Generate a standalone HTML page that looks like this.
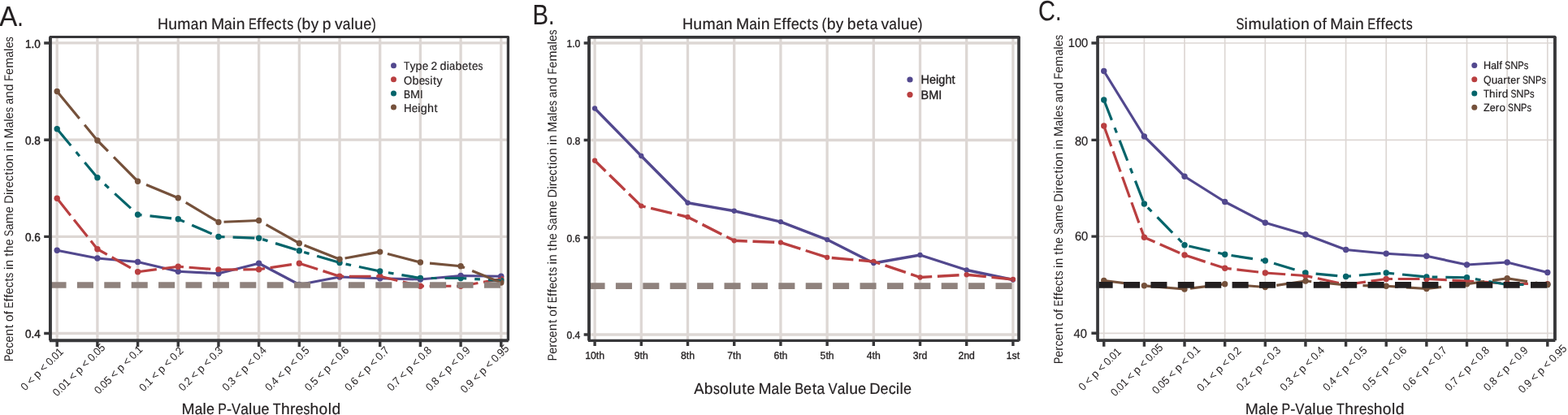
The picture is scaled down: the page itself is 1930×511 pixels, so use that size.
<!DOCTYPE html>
<html lang="en">
<head>
<meta charset="utf-8">
<title>Percent of Effects in the Same Direction in Males and Females</title>
<style>
html,body{margin:0;padding:0;background:#fff;}
body{width:1930px;height:511px;overflow:hidden;}
svg{display:block;}
</style>
</head>
<body>
<svg width="1930" height="511" viewBox="0 0 1930 511" text-rendering="geometricPrecision">
<rect width="1930" height="511" fill="#fff"/>
<g id="panel-a">
<path d="M70.20 45.43V419.25M119.89 45.43V419.25M169.58 45.43V419.25M219.27 45.43V419.25M268.96 45.43V419.25M318.65 45.43V419.25M368.34 45.43V419.25M418.03 45.43V419.25M467.72 45.43V419.25M517.41 45.43V419.25M567.10 45.43V419.25M616.79 45.43V419.25M61.94 52.97H625.42M61.94 172.20H625.42M61.94 291.40H625.42M61.94 410.50H625.42" stroke="#ddd7d4" stroke-width="3.3" fill="none"/>
<g fill="#52488e"><circle cx="70.20" cy="308.25" r="3.7"/><circle cx="119.89" cy="318.00" r="3.7"/><circle cx="169.58" cy="322.50" r="3.7"/><circle cx="219.27" cy="334.25" r="3.7"/><circle cx="268.96" cy="336.75" r="3.7"/><circle cx="318.65" cy="324.25" r="3.7"/><circle cx="368.34" cy="350.50" r="3.7"/><circle cx="418.03" cy="341.00" r="3.7"/><circle cx="467.72" cy="342.75" r="3.7"/><circle cx="517.41" cy="344.00" r="3.7"/><circle cx="567.10" cy="339.50" r="3.7"/><circle cx="616.79" cy="340.25" r="3.7"/></g>
<g fill="#b93f40"><circle cx="70.20" cy="244.25" r="3.7"/><circle cx="119.89" cy="306.75" r="3.7"/><circle cx="169.58" cy="334.75" r="3.7"/><circle cx="219.27" cy="328.25" r="3.7"/><circle cx="268.96" cy="332.00" r="3.7"/><circle cx="318.65" cy="331.75" r="3.7"/><circle cx="368.34" cy="324.25" r="3.7"/><circle cx="418.03" cy="340.25" r="3.7"/><circle cx="467.72" cy="340.25" r="3.7"/><circle cx="517.41" cy="352.25" r="3.7"/><circle cx="567.10" cy="352.25" r="3.7"/><circle cx="616.79" cy="343.50" r="3.7"/></g>
<g fill="#04646a"><circle cx="70.20" cy="158.75" r="3.7"/><circle cx="119.89" cy="218.75" r="3.7"/><circle cx="169.58" cy="264.25" r="3.7"/><circle cx="219.27" cy="269.75" r="3.7"/><circle cx="268.96" cy="291.50" r="3.7"/><circle cx="318.65" cy="293.25" r="3.7"/><circle cx="368.34" cy="308.75" r="3.7"/><circle cx="418.03" cy="323.50" r="3.7"/><circle cx="467.72" cy="334.00" r="3.7"/><circle cx="517.41" cy="342.50" r="3.7"/><circle cx="567.10" cy="342.50" r="3.7"/><circle cx="616.79" cy="345.50" r="3.7"/></g>
<g fill="#75513b"><circle cx="70.20" cy="112.50" r="3.7"/><circle cx="119.89" cy="173.00" r="3.7"/><circle cx="169.58" cy="223.25" r="3.7"/><circle cx="219.27" cy="243.75" r="3.7"/><circle cx="268.96" cy="273.50" r="3.7"/><circle cx="318.65" cy="271.50" r="3.7"/><circle cx="368.34" cy="299.50" r="3.7"/><circle cx="418.03" cy="319.25" r="3.7"/><circle cx="467.72" cy="310.10" r="3.7"/><circle cx="517.41" cy="323.00" r="3.7"/><circle cx="567.10" cy="327.75" r="3.7"/><circle cx="616.79" cy="348.00" r="3.7"/></g>
<polyline points="70.20,308.25 119.89,318.00 169.58,322.50 219.27,334.25 268.96,336.75 318.65,324.25 368.34,350.50 418.03,341.00 467.72,342.75 517.41,344.00 567.10,339.50 616.79,340.25" fill="none" stroke="#52488e" stroke-width="3.2" stroke-linejoin="round"/>
<polyline points="70.20,244.25 119.89,306.75 169.58,334.75 219.27,328.25 268.96,332.00 318.65,331.75 368.34,324.25 418.03,340.25 467.72,340.25 517.41,352.25 567.10,352.25 616.79,343.50" fill="none" stroke="#b93f40" stroke-width="3.2" stroke-linejoin="round" stroke-dasharray="26.72 6.68"/>
<polyline points="70.20,158.75 119.89,218.75 169.58,264.25 219.27,269.75 268.96,291.50 318.65,293.25 368.34,308.75 418.03,323.50 467.72,334.00 517.41,342.50 567.10,342.50 616.79,345.50" fill="none" stroke="#04646a" stroke-width="3.2" stroke-linejoin="round" stroke-dasharray="26.72 10.02 6.68 10.02"/>
<polyline points="70.20,112.50 119.89,173.00 169.58,223.25 219.27,243.75 268.96,273.50 318.65,271.50 368.34,299.50 418.03,319.25 467.72,310.10 517.41,323.00 567.10,327.75 616.79,348.00" fill="none" stroke="#75513b" stroke-width="3.2" stroke-linejoin="round" stroke-dasharray="43.42 10.02"/>
<path d="M61.5 351.0H625.42" stroke="#8f827d" stroke-width="7.7" stroke-dasharray="20.04 13.36" fill="none"/>
<path d="M54.19 52.97H61.94M54.19 172.20H61.94M54.19 291.40H61.94M54.19 410.50H61.94M70.20 419.25V427.03M119.89 419.25V427.03M169.58 419.25V427.03M219.27 419.25V427.03M268.96 419.25V427.03M318.65 419.25V427.03M368.34 419.25V427.03M418.03 419.25V427.03M467.72 419.25V427.03M517.41 419.25V427.03M567.10 419.25V427.03M616.79 419.25V427.03" stroke="#373739" stroke-width="3.4" fill="none"/>
<g fill="none" stroke="#373739"><path d="M61.94 45.43H625.42" stroke-width="2.95" stroke-linecap="round"/><path d="M625.42 45.43V419.45" stroke-width="3.3"/><path d="M61.94 45.43V419.35" stroke-width="3.9"/><path d="M60.89 419.25H625.82" stroke-width="3.95"/></g>
</g>
<g id="panel-b">
<path d="M732.10 45.9V419.45M789.30 45.9V419.45M846.50 45.9V419.45M903.70 45.9V419.45M960.90 45.9V419.45M1018.10 45.9V419.45M1075.30 45.9V419.45M1132.50 45.9V419.45M1189.70 45.9V419.45M1246.90 45.9V419.45M725.0 53.00H1254.05M725.0 172.50H1254.05M725.0 292.50H1254.05M725.0 412.00H1254.05" stroke="#ddd7d4" stroke-width="3.3" fill="none"/>
<g fill="#52488e"><circle cx="732.10" cy="133.50" r="3.15"/><circle cx="789.30" cy="192.00" r="3.15"/><circle cx="846.50" cy="249.75" r="3.15"/><circle cx="903.70" cy="259.75" r="3.15"/><circle cx="960.90" cy="273.10" r="3.15"/><circle cx="1018.10" cy="295.10" r="3.15"/><circle cx="1075.30" cy="324.00" r="3.15"/><circle cx="1132.50" cy="314.00" r="3.15"/><circle cx="1189.70" cy="332.50" r="3.15"/><circle cx="1246.90" cy="344.50" r="3.15"/></g>
<g fill="#b93f40"><circle cx="732.10" cy="197.75" r="3.15"/><circle cx="789.30" cy="253.60" r="3.15"/><circle cx="846.50" cy="267.25" r="3.15"/><circle cx="903.70" cy="296.30" r="3.15"/><circle cx="960.90" cy="298.60" r="3.15"/><circle cx="1018.10" cy="317.00" r="3.15"/><circle cx="1075.30" cy="322.00" r="3.15"/><circle cx="1132.50" cy="341.50" r="3.15"/><circle cx="1189.70" cy="338.25" r="3.15"/><circle cx="1246.90" cy="344.00" r="3.15"/></g>
<polyline points="732.10,133.50 789.30,192.00 846.50,249.75 903.70,259.75 960.90,273.10 1018.10,295.10 1075.30,324.00 1132.50,314.00 1189.70,332.50 1246.90,344.50" fill="none" stroke="#52488e" stroke-width="3.4" stroke-linejoin="round"/>
<polyline points="732.10,197.75 789.30,253.60 846.50,267.25 903.70,296.30 960.90,298.60 1018.10,317.00 1075.30,322.00 1132.50,341.50 1189.70,338.25 1246.90,344.00" fill="none" stroke="#b93f40" stroke-width="3.4" stroke-linejoin="round" stroke-dasharray="26.72 6.68" stroke-dashoffset="8.10"/>
<path d="M724.5 352.2H1254.05" stroke="#8f827d" stroke-width="7.7" stroke-dasharray="20.04 13.36" fill="none"/>
<path d="M718.65 53.00H725.00M718.65 172.50H725.00M718.65 292.50H725.00M718.65 412.00H725.00M732.10 419.45V426.00M789.30 419.45V426.00M846.50 419.45V426.00M903.70 419.45V426.00M960.90 419.45V426.00M1018.10 419.45V426.00M1075.30 419.45V426.00M1132.50 419.45V426.00M1189.70 419.45V426.00M1246.90 419.45V426.00" stroke="#373739" stroke-width="3.4" fill="none"/>
<g fill="none" stroke="#373739"><path d="M725.0 45.9H1254.05" stroke-width="3.9" stroke-linecap="round"/><path d="M1254.05 45.9V419.65" stroke-width="3.7"/><path d="M725.0 45.9V419.55" stroke-width="3.9"/><path d="M723.95 419.45H1254.45" stroke-width="3.3"/></g>
</g>
<g id="panel-c">
<path d="M1358.75 45.34V419.07M1408.39 45.34V419.07M1458.03 45.34V419.07M1507.67 45.34V419.07M1557.31 45.34V419.07M1606.95 45.34V419.07M1656.59 45.34V419.07M1706.23 45.34V419.07M1755.87 45.34V419.07M1805.51 45.34V419.07M1855.15 45.34V419.07M1904.79 45.34V419.07M1351.05 53.00H1913.93M1351.05 172.40H1913.93M1351.05 291.10H1913.93M1351.05 410.30H1913.93" stroke="#ddd7d4" stroke-width="1.7" fill="none"/>
<g fill="#52488e"><circle cx="1358.75" cy="87.50" r="3.7"/><circle cx="1408.39" cy="168.00" r="3.7"/><circle cx="1458.03" cy="217.25" r="3.7"/><circle cx="1507.67" cy="248.50" r="3.7"/><circle cx="1557.31" cy="274.25" r="3.7"/><circle cx="1606.95" cy="288.75" r="3.7"/><circle cx="1656.59" cy="307.50" r="3.7"/><circle cx="1706.23" cy="312.25" r="3.7"/><circle cx="1755.87" cy="315.25" r="3.7"/><circle cx="1805.51" cy="326.00" r="3.7"/><circle cx="1855.15" cy="323.00" r="3.7"/><circle cx="1904.79" cy="335.50" r="3.7"/></g>
<g fill="#b93f40"><circle cx="1358.75" cy="155.00" r="3.7"/><circle cx="1408.39" cy="292.25" r="3.7"/><circle cx="1458.03" cy="314.00" r="3.7"/><circle cx="1507.67" cy="330.25" r="3.7"/><circle cx="1557.31" cy="336.00" r="3.7"/><circle cx="1606.95" cy="339.50" r="3.7"/><circle cx="1656.59" cy="350.50" r="3.7"/><circle cx="1706.23" cy="343.50" r="3.7"/><circle cx="1755.87" cy="343.50" r="3.7"/><circle cx="1805.51" cy="346.00" r="3.7"/><circle cx="1855.15" cy="349.00" r="3.7"/><circle cx="1904.79" cy="349.75" r="3.7"/></g>
<g fill="#04646a"><circle cx="1358.75" cy="123.00" r="3.7"/><circle cx="1408.39" cy="251.00" r="3.7"/><circle cx="1458.03" cy="301.75" r="3.7"/><circle cx="1507.67" cy="313.25" r="3.7"/><circle cx="1557.31" cy="321.00" r="3.7"/><circle cx="1606.95" cy="336.00" r="3.7"/><circle cx="1656.59" cy="340.50" r="3.7"/><circle cx="1706.23" cy="336.00" r="3.7"/><circle cx="1755.87" cy="341.00" r="3.7"/><circle cx="1805.51" cy="341.75" r="3.7"/><circle cx="1855.15" cy="350.50" r="3.7"/><circle cx="1904.79" cy="350.50" r="3.7"/></g>
<g fill="#75513b"><circle cx="1358.75" cy="345.50" r="3.7"/><circle cx="1408.39" cy="351.75" r="3.7"/><circle cx="1458.03" cy="356.00" r="3.7"/><circle cx="1507.67" cy="349.75" r="3.7"/><circle cx="1557.31" cy="353.50" r="3.7"/><circle cx="1606.95" cy="346.00" r="3.7"/><circle cx="1656.59" cy="351.00" r="3.7"/><circle cx="1706.23" cy="352.25" r="3.7"/><circle cx="1755.87" cy="355.50" r="3.7"/><circle cx="1805.51" cy="349.75" r="3.7"/><circle cx="1855.15" cy="342.75" r="3.7"/><circle cx="1904.79" cy="350.50" r="3.7"/></g>
<polyline points="1358.75,87.50 1408.39,168.00 1458.03,217.25 1507.67,248.50 1557.31,274.25 1606.95,288.75 1656.59,307.50 1706.23,312.25 1755.87,315.25 1805.51,326.00 1855.15,323.00 1904.79,335.50" fill="none" stroke="#52488e" stroke-width="3.2" stroke-linejoin="round"/>
<polyline points="1358.75,155.00 1408.39,292.25 1458.03,314.00 1507.67,330.25 1557.31,336.00 1606.95,339.50 1656.59,350.50 1706.23,343.50 1755.87,343.50 1805.51,346.00 1855.15,349.00 1904.79,349.75" fill="none" stroke="#b93f40" stroke-width="3.2" stroke-linejoin="round" stroke-dasharray="26.72 6.68"/>
<polyline points="1358.75,123.00 1408.39,251.00 1458.03,301.75 1507.67,313.25 1557.31,321.00 1606.95,336.00 1656.59,340.50 1706.23,336.00 1755.87,341.00 1805.51,341.75 1855.15,350.50 1904.79,350.50" fill="none" stroke="#04646a" stroke-width="3.2" stroke-linejoin="round" stroke-dasharray="26.72 10.02 6.68 10.02"/>
<polyline points="1358.75,345.50 1408.39,351.75 1458.03,356.00 1507.67,349.75 1557.31,353.50 1606.95,346.00 1656.59,351.00 1706.23,352.25 1755.87,355.50 1805.51,349.75 1855.15,342.75 1904.79,350.50" fill="none" stroke="#75513b" stroke-width="3.2" stroke-linejoin="round" stroke-dasharray="43.42 10.02"/>
<path d="M1349.6 350.9H1913.93" stroke="#231f20" stroke-width="7.7" stroke-dasharray="20.04 13.36" fill="none"/>
<path d="M1343.40 53.00H1351.05M1343.40 172.40H1351.05M1343.40 291.10H1351.05M1343.40 410.30H1351.05M1358.75 419.07V426.72M1408.39 419.07V426.72M1458.03 419.07V426.72M1507.67 419.07V426.72M1557.31 419.07V426.72M1606.95 419.07V426.72M1656.59 419.07V426.72M1706.23 419.07V426.72M1755.87 419.07V426.72M1805.51 419.07V426.72M1855.15 419.07V426.72M1904.79 419.07V426.72" stroke="#373739" stroke-width="3.4" fill="none"/>
<g fill="none" stroke="#373739"><path d="M1351.05 45.34H1913.93" stroke-width="3.1" stroke-linecap="round"/><path d="M1913.93 45.34V419.27" stroke-width="3.9"/><path d="M1351.05 45.34V419.17" stroke-width="3.7"/><path d="M1350.10 419.07H1914.33" stroke-width="3.7"/></g>
</g>
<g font-family='"Liberation Sans", sans-serif' fill="#231f20">
<text transform="translate(-0.80 31.90)" font-size="34.74" y="0" stroke="#231f20" stroke-width="0.15"><tspan x="0.00" textLength="22.03" lengthAdjust="spacingAndGlyphs">A</tspan><tspan x="22.03" textLength="7.45" lengthAdjust="spacingAndGlyphs">.</tspan></text>
<text transform="translate(655.50 30.20)" font-size="34.74" y="0" stroke="#231f20" stroke-width="0.15"><tspan x="0.00" textLength="19.51" lengthAdjust="spacingAndGlyphs">B</tspan><tspan x="19.51" textLength="7.45" lengthAdjust="spacingAndGlyphs">.</tspan></text>
<text transform="translate(1278.10 25.40)" font-size="34.74" y="0" stroke="#231f20" stroke-width="0.15"><tspan x="0.00" textLength="20.88" lengthAdjust="spacingAndGlyphs">C</tspan><tspan x="20.88" textLength="7.45" lengthAdjust="spacingAndGlyphs">.</tspan></text>
<text transform="translate(193.90 35.90)" font-size="19.4" y="0" stroke="#231f20" stroke-width="0.2"><tspan x="0.00" textLength="13.11" lengthAdjust="spacingAndGlyphs">H</tspan><tspan x="13.25">u</tspan><tspan x="24.48">m</tspan><tspan x="40.94" textLength="9.69" lengthAdjust="spacingAndGlyphs">a</tspan><tspan x="50.81">n</tspan> <tspan x="66.05">M</tspan><tspan x="82.21" textLength="9.69" lengthAdjust="spacingAndGlyphs">a</tspan><tspan x="92.09">i</tspan><tspan x="96.78">n</tspan> <tspan x="112.02" textLength="9.89" lengthAdjust="spacingAndGlyphs">E</tspan><tspan x="122.15">f</tspan><tspan x="128.02">f</tspan><tspan x="133.64" textLength="10.07" lengthAdjust="spacingAndGlyphs">e</tspan><tspan x="143.72" textLength="9.00" lengthAdjust="spacingAndGlyphs">c</tspan><tspan x="153.35">t</tspan><tspan x="159.37" textLength="7.96" lengthAdjust="spacingAndGlyphs">s</tspan> <tspan x="171.59" textLength="5.71" lengthAdjust="spacingAndGlyphs">(</tspan><tspan x="177.63">b</tspan><tspan x="188.74" textLength="9.47" lengthAdjust="spacingAndGlyphs">y</tspan> <tspan x="202.79">p</tspan> <tspan x="218.15">v</tspan><tspan x="227.83" textLength="9.69" lengthAdjust="spacingAndGlyphs">a</tspan><tspan x="237.74">l</tspan><tspan x="242.41">u</tspan><tspan x="253.34" textLength="10.07" lengthAdjust="spacingAndGlyphs">e</tspan><tspan x="263.41" textLength="5.71" lengthAdjust="spacingAndGlyphs">)</tspan></text>
<text transform="translate(840.00 35.90)" font-size="19.4" y="0" stroke="#231f20" stroke-width="0.2"><tspan x="0.00" textLength="13.11" lengthAdjust="spacingAndGlyphs">H</tspan><tspan x="13.25">u</tspan><tspan x="24.48">m</tspan><tspan x="40.94" textLength="9.69" lengthAdjust="spacingAndGlyphs">a</tspan><tspan x="50.81">n</tspan> <tspan x="66.05">M</tspan><tspan x="82.21" textLength="9.69" lengthAdjust="spacingAndGlyphs">a</tspan><tspan x="92.09">i</tspan><tspan x="96.78">n</tspan> <tspan x="112.02" textLength="9.89" lengthAdjust="spacingAndGlyphs">E</tspan><tspan x="122.15">f</tspan><tspan x="128.02">f</tspan><tspan x="133.64" textLength="10.07" lengthAdjust="spacingAndGlyphs">e</tspan><tspan x="143.72" textLength="9.00" lengthAdjust="spacingAndGlyphs">c</tspan><tspan x="153.35">t</tspan><tspan x="159.37" textLength="7.96" lengthAdjust="spacingAndGlyphs">s</tspan> <tspan x="171.59" textLength="5.71" lengthAdjust="spacingAndGlyphs">(</tspan><tspan x="177.63">b</tspan><tspan x="188.74" textLength="9.47" lengthAdjust="spacingAndGlyphs">y</tspan> <tspan x="202.79">b</tspan><tspan x="213.90" textLength="10.07" lengthAdjust="spacingAndGlyphs">e</tspan><tspan x="224.61">t</tspan><tspan x="230.63" textLength="9.69" lengthAdjust="spacingAndGlyphs">a</tspan> <tspan x="244.56">v</tspan><tspan x="254.24" textLength="9.69" lengthAdjust="spacingAndGlyphs">a</tspan><tspan x="264.15">l</tspan><tspan x="268.82">u</tspan><tspan x="279.75" textLength="10.07" lengthAdjust="spacingAndGlyphs">e</tspan><tspan x="289.82" textLength="5.71" lengthAdjust="spacingAndGlyphs">)</tspan></text>
<text transform="translate(1521.50 36.10)" font-size="19.4" y="0" stroke="#231f20" stroke-width="0.2"><tspan x="0.00" textLength="9.91" lengthAdjust="spacingAndGlyphs">S</tspan><tspan x="10.11">i</tspan><tspan x="14.91">m</tspan><tspan x="31.52">u</tspan><tspan x="42.67">l</tspan><tspan x="47.19" textLength="9.69" lengthAdjust="spacingAndGlyphs">a</tspan><tspan x="57.51">t</tspan><tspan x="63.73">i</tspan><tspan x="68.36">o</tspan><tspan x="79.46">n</tspan> <tspan x="94.81">o</tspan><tspan x="105.97">f</tspan> <tspan x="115.86">M</tspan><tspan x="132.02" textLength="9.69" lengthAdjust="spacingAndGlyphs">a</tspan><tspan x="141.90">i</tspan><tspan x="146.59">n</tspan> <tspan x="161.83" textLength="9.89" lengthAdjust="spacingAndGlyphs">E</tspan><tspan x="171.95">f</tspan><tspan x="177.82">f</tspan><tspan x="183.45" textLength="10.07" lengthAdjust="spacingAndGlyphs">e</tspan><tspan x="193.52" textLength="9.00" lengthAdjust="spacingAndGlyphs">c</tspan><tspan x="203.16">t</tspan><tspan x="209.18" textLength="7.96" lengthAdjust="spacingAndGlyphs">s</tspan></text>
<text transform="translate(223.60 509.60)" font-size="19.3" y="0" stroke="#231f20" stroke-width="0.2"><tspan x="0.00">M</tspan><tspan x="16.08" textLength="9.64" lengthAdjust="spacingAndGlyphs">a</tspan><tspan x="25.94">l</tspan><tspan x="30.44" textLength="10.02" lengthAdjust="spacingAndGlyphs">e</tspan> <tspan x="44.70" textLength="10.64" lengthAdjust="spacingAndGlyphs">P</tspan><tspan x="55.34" textLength="6.14" lengthAdjust="spacingAndGlyphs">-</tspan><tspan x="61.48" textLength="11.16" lengthAdjust="spacingAndGlyphs">V</tspan><tspan x="72.64" textLength="9.64" lengthAdjust="spacingAndGlyphs">a</tspan><tspan x="82.50">l</tspan><tspan x="87.14">u</tspan><tspan x="98.02" textLength="10.02" lengthAdjust="spacingAndGlyphs">e</tspan> <tspan x="112.28" textLength="9.94" lengthAdjust="spacingAndGlyphs">T</tspan><tspan x="122.40">h</tspan><tspan x="133.38">r</tspan><tspan x="139.86" textLength="10.02" lengthAdjust="spacingAndGlyphs">e</tspan><tspan x="149.88" textLength="7.92" lengthAdjust="spacingAndGlyphs">s</tspan><tspan x="157.98">h</tspan><tspan x="169.02">o</tspan><tspan x="180.10">l</tspan><tspan x="184.87">d</tspan></text>
<text transform="translate(854.30 485.30)" font-size="19.3" y="0" stroke="#231f20" stroke-width="0.2"><tspan x="0.00" textLength="12.24" lengthAdjust="spacingAndGlyphs">A</tspan><tspan x="12.56">b</tspan><tspan x="23.62" textLength="7.92" lengthAdjust="spacingAndGlyphs">s</tspan><tspan x="31.66">o</tspan><tspan x="42.74">l</tspan><tspan x="47.38">u</tspan><tspan x="58.89">t</tspan><tspan x="64.88" textLength="10.02" lengthAdjust="spacingAndGlyphs">e</tspan> <tspan x="79.14">M</tspan><tspan x="95.22" textLength="9.64" lengthAdjust="spacingAndGlyphs">a</tspan><tspan x="105.08">l</tspan><tspan x="109.58" textLength="10.02" lengthAdjust="spacingAndGlyphs">e</tspan> <tspan x="123.84" textLength="10.84" lengthAdjust="spacingAndGlyphs">B</tspan><tspan x="134.68" textLength="10.02" lengthAdjust="spacingAndGlyphs">e</tspan><tspan x="145.33">t</tspan><tspan x="151.32" textLength="9.64" lengthAdjust="spacingAndGlyphs">a</tspan> <tspan x="165.20" textLength="11.16" lengthAdjust="spacingAndGlyphs">V</tspan><tspan x="176.36" textLength="9.64" lengthAdjust="spacingAndGlyphs">a</tspan><tspan x="186.22">l</tspan><tspan x="190.86">u</tspan><tspan x="201.74" textLength="10.02" lengthAdjust="spacingAndGlyphs">e</tspan> <tspan x="216.00" textLength="13.32" lengthAdjust="spacingAndGlyphs">D</tspan><tspan x="229.32" textLength="10.02" lengthAdjust="spacingAndGlyphs">e</tspan><tspan x="239.34" textLength="8.96" lengthAdjust="spacingAndGlyphs">c</tspan><tspan x="248.50">i</tspan><tspan x="253.20">l</tspan><tspan x="257.70" textLength="10.02" lengthAdjust="spacingAndGlyphs">e</tspan></text>
<text transform="translate(1532.80 509.60)" font-size="19.3" y="0" stroke="#231f20" stroke-width="0.2"><tspan x="0.00">M</tspan><tspan x="16.08" textLength="9.64" lengthAdjust="spacingAndGlyphs">a</tspan><tspan x="25.94">l</tspan><tspan x="30.44" textLength="10.02" lengthAdjust="spacingAndGlyphs">e</tspan> <tspan x="44.70" textLength="10.64" lengthAdjust="spacingAndGlyphs">P</tspan><tspan x="55.34" textLength="6.14" lengthAdjust="spacingAndGlyphs">-</tspan><tspan x="61.48" textLength="11.16" lengthAdjust="spacingAndGlyphs">V</tspan><tspan x="72.64" textLength="9.64" lengthAdjust="spacingAndGlyphs">a</tspan><tspan x="82.50">l</tspan><tspan x="87.14">u</tspan><tspan x="98.02" textLength="10.02" lengthAdjust="spacingAndGlyphs">e</tspan> <tspan x="112.28" textLength="9.94" lengthAdjust="spacingAndGlyphs">T</tspan><tspan x="122.40">h</tspan><tspan x="133.38">r</tspan><tspan x="139.86" textLength="10.02" lengthAdjust="spacingAndGlyphs">e</tspan><tspan x="149.88" textLength="7.92" lengthAdjust="spacingAndGlyphs">s</tspan><tspan x="157.98">h</tspan><tspan x="169.02">o</tspan><tspan x="180.10">l</tspan><tspan x="184.87">d</tspan></text>
<text transform="translate(16.00 445.10) rotate(-90)" font-size="15.42" y="0" ><tspan x="0.00" textLength="8.46" lengthAdjust="spacingAndGlyphs">P</tspan><tspan x="8.46" textLength="7.97" lengthAdjust="spacingAndGlyphs">e</tspan><tspan x="16.42" textLength="7.12" lengthAdjust="spacingAndGlyphs">c</tspan><tspan x="23.55" textLength="7.97" lengthAdjust="spacingAndGlyphs">e</tspan><tspan x="31.64">n</tspan><tspan x="40.83">t</tspan> <tspan x="49.05">o</tspan><tspan x="57.88">f</tspan> <tspan x="65.71" textLength="7.82" lengthAdjust="spacingAndGlyphs">E</tspan><tspan x="73.72">f</tspan><tspan x="78.36">f</tspan><tspan x="82.82" textLength="7.97" lengthAdjust="spacingAndGlyphs">e</tspan><tspan x="90.79" textLength="7.12" lengthAdjust="spacingAndGlyphs">c</tspan><tspan x="98.40">t</tspan><tspan x="103.18" textLength="6.30" lengthAdjust="spacingAndGlyphs">s</tspan> <tspan x="112.99">i</tspan><tspan x="116.69">n</tspan> <tspan x="129.25">t</tspan><tspan x="134.15">h</tspan><tspan x="142.85" textLength="7.97" lengthAdjust="spacingAndGlyphs">e</tspan> <tspan x="154.18" textLength="7.84" lengthAdjust="spacingAndGlyphs">S</tspan><tspan x="162.02" textLength="7.66" lengthAdjust="spacingAndGlyphs">a</tspan><tspan x="169.89">m</tspan><tspan x="182.95" textLength="7.97" lengthAdjust="spacingAndGlyphs">e</tspan> <tspan x="194.28" textLength="10.59" lengthAdjust="spacingAndGlyphs">D</tspan><tspan x="205.02">i</tspan><tspan x="208.62">r</tspan><tspan x="213.79" textLength="7.97" lengthAdjust="spacingAndGlyphs">e</tspan><tspan x="221.76" textLength="7.12" lengthAdjust="spacingAndGlyphs">c</tspan><tspan x="229.37">t</tspan><tspan x="234.29">i</tspan><tspan x="237.94">o</tspan><tspan x="246.72">n</tspan> <tspan x="258.94">i</tspan><tspan x="262.63">n</tspan> <tspan x="274.67">M</tspan><tspan x="287.49" textLength="7.66" lengthAdjust="spacingAndGlyphs">a</tspan><tspan x="295.31">l</tspan><tspan x="298.90" textLength="7.97" lengthAdjust="spacingAndGlyphs">e</tspan><tspan x="306.87" textLength="6.30" lengthAdjust="spacingAndGlyphs">s</tspan> <tspan x="316.54" textLength="7.66" lengthAdjust="spacingAndGlyphs">a</tspan><tspan x="324.33">n</tspan><tspan x="333.22">d</tspan> <tspan x="345.36" textLength="7.74" lengthAdjust="spacingAndGlyphs">F</tspan><tspan x="353.11" textLength="7.97" lengthAdjust="spacingAndGlyphs">e</tspan><tspan x="361.28">m</tspan><tspan x="374.33" textLength="7.66" lengthAdjust="spacingAndGlyphs">a</tspan><tspan x="382.16">l</tspan><tspan x="385.75" textLength="7.97" lengthAdjust="spacingAndGlyphs">e</tspan><tspan x="393.72" textLength="6.30" lengthAdjust="spacingAndGlyphs">s</tspan></text>
<text transform="translate(685.30 444.30) rotate(-90)" font-size="15.52" y="0" ><tspan x="0.00" textLength="8.51" lengthAdjust="spacingAndGlyphs">P</tspan><tspan x="8.51" textLength="8.02" lengthAdjust="spacingAndGlyphs">e</tspan><tspan x="16.56">r</tspan><tspan x="21.76" textLength="7.17" lengthAdjust="spacingAndGlyphs">c</tspan><tspan x="28.93" textLength="8.02" lengthAdjust="spacingAndGlyphs">e</tspan><tspan x="37.07">n</tspan><tspan x="46.32">t</tspan> <tspan x="54.59">o</tspan><tspan x="63.48">f</tspan> <tspan x="71.36" textLength="7.87" lengthAdjust="spacingAndGlyphs">E</tspan><tspan x="79.41">f</tspan><tspan x="84.08">f</tspan><tspan x="88.58" textLength="8.02" lengthAdjust="spacingAndGlyphs">e</tspan><tspan x="96.59" textLength="7.17" lengthAdjust="spacingAndGlyphs">c</tspan><tspan x="104.25">t</tspan><tspan x="109.06" textLength="6.34" lengthAdjust="spacingAndGlyphs">s</tspan> <tspan x="118.93">i</tspan><tspan x="122.65">n</tspan> <tspan x="135.29">t</tspan><tspan x="140.22">h</tspan><tspan x="148.98" textLength="8.02" lengthAdjust="spacingAndGlyphs">e</tspan> <tspan x="160.38" textLength="7.89" lengthAdjust="spacingAndGlyphs">S</tspan><tspan x="168.27" textLength="7.71" lengthAdjust="spacingAndGlyphs">a</tspan><tspan x="176.19">m</tspan><tspan x="189.33" textLength="8.02" lengthAdjust="spacingAndGlyphs">e</tspan> <tspan x="200.74" textLength="10.66" lengthAdjust="spacingAndGlyphs">D</tspan><tspan x="211.54">i</tspan><tspan x="215.17">r</tspan><tspan x="220.37" textLength="8.02" lengthAdjust="spacingAndGlyphs">e</tspan><tspan x="228.38" textLength="7.17" lengthAdjust="spacingAndGlyphs">c</tspan><tspan x="236.04">t</tspan><tspan x="241.00">i</tspan><tspan x="244.67">o</tspan><tspan x="253.50">n</tspan> <tspan x="265.80">i</tspan><tspan x="269.52">n</tspan> <tspan x="281.63">M</tspan><tspan x="294.53" textLength="7.71" lengthAdjust="spacingAndGlyphs">a</tspan><tspan x="302.40">l</tspan><tspan x="306.02" textLength="8.02" lengthAdjust="spacingAndGlyphs">e</tspan><tspan x="314.03" textLength="6.34" lengthAdjust="spacingAndGlyphs">s</tspan> <tspan x="323.76" textLength="7.71" lengthAdjust="spacingAndGlyphs">a</tspan><tspan x="331.60">n</tspan><tspan x="340.55">d</tspan> <tspan x="352.77" textLength="7.79" lengthAdjust="spacingAndGlyphs">F</tspan><tspan x="360.56" textLength="8.02" lengthAdjust="spacingAndGlyphs">e</tspan><tspan x="368.78">m</tspan><tspan x="381.92" textLength="7.71" lengthAdjust="spacingAndGlyphs">a</tspan><tspan x="389.80">l</tspan><tspan x="393.41" textLength="8.02" lengthAdjust="spacingAndGlyphs">e</tspan><tspan x="401.42" textLength="6.34" lengthAdjust="spacingAndGlyphs">s</tspan></text>
<text transform="translate(1308.00 448.10) rotate(-90)" font-size="15.42" y="0" ><tspan x="0.00" textLength="8.46" lengthAdjust="spacingAndGlyphs">P</tspan><tspan x="8.46" textLength="7.97" lengthAdjust="spacingAndGlyphs">e</tspan><tspan x="16.46">r</tspan><tspan x="21.62" textLength="7.12" lengthAdjust="spacingAndGlyphs">c</tspan><tspan x="28.75" textLength="7.97" lengthAdjust="spacingAndGlyphs">e</tspan><tspan x="36.84">n</tspan><tspan x="46.03">t</tspan> <tspan x="54.25">o</tspan><tspan x="63.08">f</tspan> <tspan x="70.91" textLength="7.82" lengthAdjust="spacingAndGlyphs">E</tspan><tspan x="78.92">f</tspan><tspan x="83.56">f</tspan><tspan x="88.02" textLength="7.97" lengthAdjust="spacingAndGlyphs">e</tspan><tspan x="95.99" textLength="7.12" lengthAdjust="spacingAndGlyphs">c</tspan><tspan x="103.60">t</tspan><tspan x="108.37" textLength="6.30" lengthAdjust="spacingAndGlyphs">s</tspan> <tspan x="118.19">i</tspan><tspan x="121.89">n</tspan> <tspan x="134.45">t</tspan><tspan x="139.34">h</tspan><tspan x="148.04" textLength="7.97" lengthAdjust="spacingAndGlyphs">e</tspan> <tspan x="159.38" textLength="7.84" lengthAdjust="spacingAndGlyphs">S</tspan><tspan x="167.22" textLength="7.66" lengthAdjust="spacingAndGlyphs">a</tspan><tspan x="175.09">m</tspan><tspan x="188.14" textLength="7.97" lengthAdjust="spacingAndGlyphs">e</tspan> <tspan x="199.48" textLength="10.59" lengthAdjust="spacingAndGlyphs">D</tspan><tspan x="210.22">i</tspan><tspan x="213.82">r</tspan><tspan x="218.99" textLength="7.97" lengthAdjust="spacingAndGlyphs">e</tspan><tspan x="226.96" textLength="7.12" lengthAdjust="spacingAndGlyphs">c</tspan><tspan x="234.57">t</tspan><tspan x="239.49">i</tspan><tspan x="243.14">o</tspan><tspan x="251.92">n</tspan> <tspan x="264.14">i</tspan><tspan x="267.83">n</tspan> <tspan x="279.87">M</tspan><tspan x="292.69" textLength="7.66" lengthAdjust="spacingAndGlyphs">a</tspan><tspan x="300.51">l</tspan><tspan x="304.10" textLength="7.97" lengthAdjust="spacingAndGlyphs">e</tspan><tspan x="312.07" textLength="6.30" lengthAdjust="spacingAndGlyphs">s</tspan> <tspan x="321.74" textLength="7.66" lengthAdjust="spacingAndGlyphs">a</tspan><tspan x="329.52">n</tspan><tspan x="338.42">d</tspan> <tspan x="350.56" textLength="7.74" lengthAdjust="spacingAndGlyphs">F</tspan><tspan x="358.31" textLength="7.97" lengthAdjust="spacingAndGlyphs">e</tspan><tspan x="366.48">m</tspan><tspan x="379.53" textLength="7.66" lengthAdjust="spacingAndGlyphs">a</tspan><tspan x="387.36">l</tspan><tspan x="390.95" textLength="7.97" lengthAdjust="spacingAndGlyphs">e</tspan><tspan x="398.92" textLength="6.30" lengthAdjust="spacingAndGlyphs">s</tspan></text>
<text x="49.9" y="58.57" font-size="14.21" textLength="18.91" lengthAdjust="spacingAndGlyphs" text-anchor="end" stroke="#231f20" stroke-width="0.45">1.0</text>
<text x="49.9" y="177.8" font-size="14.21" textLength="18.91" lengthAdjust="spacingAndGlyphs" text-anchor="end" stroke="#231f20" stroke-width="0.45">0.8</text>
<text x="49.9" y="297.0" font-size="14.21" textLength="18.91" lengthAdjust="spacingAndGlyphs" text-anchor="end" stroke="#231f20" stroke-width="0.45">0.6</text>
<text x="49.9" y="416.1" font-size="14.21" textLength="18.91" lengthAdjust="spacingAndGlyphs" text-anchor="end" stroke="#231f20" stroke-width="0.45">0.4</text>
<text x="714.4" y="58.0" font-size="12.75" textLength="16.96" lengthAdjust="spacingAndGlyphs" text-anchor="end" stroke="#231f20" stroke-width="0.35">1.0</text>
<text x="714.4" y="177.5" font-size="12.75" textLength="16.96" lengthAdjust="spacingAndGlyphs" text-anchor="end" stroke="#231f20" stroke-width="0.35">0.8</text>
<text x="714.4" y="297.5" font-size="12.75" textLength="16.96" lengthAdjust="spacingAndGlyphs" text-anchor="end" stroke="#231f20" stroke-width="0.35">0.6</text>
<text x="714.4" y="417.0" font-size="12.75" textLength="16.96" lengthAdjust="spacingAndGlyphs" text-anchor="end" stroke="#231f20" stroke-width="0.35">0.4</text>
<text transform="translate(1339.30 57.80)" font-size="15.44" y="0" stroke="#231f20" stroke-width="0.2"><tspan x="-24.62" textLength="8.21" lengthAdjust="spacingAndGlyphs">1</tspan><tspan x="-16.42" textLength="8.21" lengthAdjust="spacingAndGlyphs">0</tspan><tspan x="-8.21" textLength="8.21" lengthAdjust="spacingAndGlyphs">0</tspan></text>
<text transform="translate(1339.30 179.40)" font-size="15.44" y="0" stroke="#231f20" stroke-width="0.2"><tspan x="-16.42" textLength="8.21" lengthAdjust="spacingAndGlyphs">8</tspan><tspan x="-8.21" textLength="8.21" lengthAdjust="spacingAndGlyphs">0</tspan></text>
<text transform="translate(1339.30 296.15)" font-size="15.44" y="0" stroke="#231f20" stroke-width="0.2"><tspan x="-16.42" textLength="8.21" lengthAdjust="spacingAndGlyphs">6</tspan><tspan x="-8.21" textLength="8.21" lengthAdjust="spacingAndGlyphs">0</tspan></text>
<text transform="translate(1338.00 416.30)" font-size="15.44" y="0" stroke="#231f20" stroke-width="0.2"><tspan x="-16.42" textLength="8.21" lengthAdjust="spacingAndGlyphs">4</tspan><tspan x="-8.21" textLength="8.21" lengthAdjust="spacingAndGlyphs">0</tspan></text>
<text transform="translate(75.70 430.80) rotate(-45)" font-size="13.55" y="4.4" ><tspan x="-67.67" textLength="7.13" lengthAdjust="spacingAndGlyphs">0</tspan> <tspan x="-57.40">&lt;</tspan> <tspan x="-46.17">p</tspan> <tspan x="-35.31">&lt;</tspan> <tspan x="-24.27" textLength="7.13" lengthAdjust="spacingAndGlyphs">0</tspan><tspan x="-17.14" textLength="2.88" lengthAdjust="spacingAndGlyphs">.</tspan><tspan x="-14.26" textLength="7.13" lengthAdjust="spacingAndGlyphs">0</tspan><tspan x="-7.13" textLength="7.13" lengthAdjust="spacingAndGlyphs">1</tspan></text>
<text transform="translate(127.20 425.65) rotate(-45)" font-size="13.55" y="4.4" ><tspan x="-84.80" textLength="7.13" lengthAdjust="spacingAndGlyphs">0</tspan><tspan x="-77.67" textLength="2.88" lengthAdjust="spacingAndGlyphs">.</tspan><tspan x="-74.80" textLength="7.13" lengthAdjust="spacingAndGlyphs">0</tspan><tspan x="-67.67" textLength="7.13" lengthAdjust="spacingAndGlyphs">1</tspan> <tspan x="-57.40">&lt;</tspan> <tspan x="-46.17">p</tspan> <tspan x="-35.31">&lt;</tspan> <tspan x="-24.27" textLength="7.13" lengthAdjust="spacingAndGlyphs">0</tspan><tspan x="-17.14" textLength="2.88" lengthAdjust="spacingAndGlyphs">.</tspan><tspan x="-14.26" textLength="7.13" lengthAdjust="spacingAndGlyphs">0</tspan><tspan x="-7.13" textLength="7.13" lengthAdjust="spacingAndGlyphs">5</tspan></text>
<text transform="translate(173.20 428.05) rotate(-45)" font-size="13.55" y="4.4" ><tspan x="-77.67" textLength="7.13" lengthAdjust="spacingAndGlyphs">0</tspan><tspan x="-70.54" textLength="2.88" lengthAdjust="spacingAndGlyphs">.</tspan><tspan x="-67.67" textLength="7.13" lengthAdjust="spacingAndGlyphs">0</tspan><tspan x="-60.53" textLength="7.13" lengthAdjust="spacingAndGlyphs">5</tspan> <tspan x="-50.27">&lt;</tspan> <tspan x="-39.04">p</tspan> <tspan x="-28.18">&lt;</tspan> <tspan x="-17.14" textLength="7.13" lengthAdjust="spacingAndGlyphs">0</tspan><tspan x="-10.01" textLength="2.88" lengthAdjust="spacingAndGlyphs">.</tspan><tspan x="-7.13" textLength="7.13" lengthAdjust="spacingAndGlyphs">1</tspan></text>
<text transform="translate(223.40 429.70) rotate(-45)" font-size="13.55" y="4.4" ><tspan x="-70.54" textLength="7.13" lengthAdjust="spacingAndGlyphs">0</tspan><tspan x="-63.41" textLength="2.88" lengthAdjust="spacingAndGlyphs">.</tspan><tspan x="-60.53" textLength="7.13" lengthAdjust="spacingAndGlyphs">1</tspan> <tspan x="-50.27">&lt;</tspan> <tspan x="-39.04">p</tspan> <tspan x="-28.18">&lt;</tspan> <tspan x="-17.14" textLength="7.13" lengthAdjust="spacingAndGlyphs">0</tspan><tspan x="-10.01" textLength="2.88" lengthAdjust="spacingAndGlyphs">.</tspan><tspan x="-7.13" textLength="7.13" lengthAdjust="spacingAndGlyphs">2</tspan></text>
<text transform="translate(272.00 429.20) rotate(-45)" font-size="13.55" y="4.4" ><tspan x="-70.54" textLength="7.13" lengthAdjust="spacingAndGlyphs">0</tspan><tspan x="-63.41" textLength="2.88" lengthAdjust="spacingAndGlyphs">.</tspan><tspan x="-60.53" textLength="7.13" lengthAdjust="spacingAndGlyphs">2</tspan> <tspan x="-50.27">&lt;</tspan> <tspan x="-39.04">p</tspan> <tspan x="-28.18">&lt;</tspan> <tspan x="-17.14" textLength="7.13" lengthAdjust="spacingAndGlyphs">0</tspan><tspan x="-10.01" textLength="2.88" lengthAdjust="spacingAndGlyphs">.</tspan><tspan x="-7.13" textLength="7.13" lengthAdjust="spacingAndGlyphs">3</tspan></text>
<text transform="translate(325.75 429.20) rotate(-45)" font-size="13.55" y="4.4" ><tspan x="-70.54" textLength="7.13" lengthAdjust="spacingAndGlyphs">0</tspan><tspan x="-63.41" textLength="2.88" lengthAdjust="spacingAndGlyphs">.</tspan><tspan x="-60.53" textLength="7.13" lengthAdjust="spacingAndGlyphs">3</tspan> <tspan x="-50.27">&lt;</tspan> <tspan x="-39.04">p</tspan> <tspan x="-28.18">&lt;</tspan> <tspan x="-17.14" textLength="7.13" lengthAdjust="spacingAndGlyphs">0</tspan><tspan x="-10.01" textLength="2.88" lengthAdjust="spacingAndGlyphs">.</tspan><tspan x="-7.13" textLength="7.13" lengthAdjust="spacingAndGlyphs">4</tspan></text>
<text transform="translate(378.40 429.20) rotate(-45)" font-size="13.55" y="4.4" ><tspan x="-70.54" textLength="7.13" lengthAdjust="spacingAndGlyphs">0</tspan><tspan x="-63.41" textLength="2.88" lengthAdjust="spacingAndGlyphs">.</tspan><tspan x="-60.53" textLength="7.13" lengthAdjust="spacingAndGlyphs">4</tspan> <tspan x="-50.27">&lt;</tspan> <tspan x="-39.04">p</tspan> <tspan x="-28.18">&lt;</tspan> <tspan x="-17.14" textLength="7.13" lengthAdjust="spacingAndGlyphs">0</tspan><tspan x="-10.01" textLength="2.88" lengthAdjust="spacingAndGlyphs">.</tspan><tspan x="-7.13" textLength="7.13" lengthAdjust="spacingAndGlyphs">5</tspan></text>
<text transform="translate(427.20 429.20) rotate(-45)" font-size="13.55" y="4.4" ><tspan x="-70.54" textLength="7.13" lengthAdjust="spacingAndGlyphs">0</tspan><tspan x="-63.41" textLength="2.88" lengthAdjust="spacingAndGlyphs">.</tspan><tspan x="-60.53" textLength="7.13" lengthAdjust="spacingAndGlyphs">5</tspan> <tspan x="-50.27">&lt;</tspan> <tspan x="-39.04">p</tspan> <tspan x="-28.18">&lt;</tspan> <tspan x="-17.14" textLength="7.13" lengthAdjust="spacingAndGlyphs">0</tspan><tspan x="-10.01" textLength="2.88" lengthAdjust="spacingAndGlyphs">.</tspan><tspan x="-7.13" textLength="7.13" lengthAdjust="spacingAndGlyphs">6</tspan></text>
<text transform="translate(476.60 429.20) rotate(-45)" font-size="13.55" y="4.4" ><tspan x="-70.54" textLength="7.13" lengthAdjust="spacingAndGlyphs">0</tspan><tspan x="-63.41" textLength="2.88" lengthAdjust="spacingAndGlyphs">.</tspan><tspan x="-60.53" textLength="7.13" lengthAdjust="spacingAndGlyphs">6</tspan> <tspan x="-50.27">&lt;</tspan> <tspan x="-39.04">p</tspan> <tspan x="-28.18">&lt;</tspan> <tspan x="-17.14" textLength="7.13" lengthAdjust="spacingAndGlyphs">0</tspan><tspan x="-10.01" textLength="2.88" lengthAdjust="spacingAndGlyphs">.</tspan><tspan x="-7.13" textLength="7.13" lengthAdjust="spacingAndGlyphs">7</tspan></text>
<text transform="translate(528.80 429.20) rotate(-45)" font-size="13.55" y="4.4" ><tspan x="-70.54" textLength="7.13" lengthAdjust="spacingAndGlyphs">0</tspan><tspan x="-63.41" textLength="2.88" lengthAdjust="spacingAndGlyphs">.</tspan><tspan x="-60.53" textLength="7.13" lengthAdjust="spacingAndGlyphs">7</tspan> <tspan x="-50.27">&lt;</tspan> <tspan x="-39.04">p</tspan> <tspan x="-28.18">&lt;</tspan> <tspan x="-17.14" textLength="7.13" lengthAdjust="spacingAndGlyphs">0</tspan><tspan x="-10.01" textLength="2.88" lengthAdjust="spacingAndGlyphs">.</tspan><tspan x="-7.13" textLength="7.13" lengthAdjust="spacingAndGlyphs">8</tspan></text>
<text transform="translate(576.30 429.20) rotate(-45)" font-size="13.55" y="4.4" ><tspan x="-70.54" textLength="7.13" lengthAdjust="spacingAndGlyphs">0</tspan><tspan x="-63.41" textLength="2.88" lengthAdjust="spacingAndGlyphs">.</tspan><tspan x="-60.53" textLength="7.13" lengthAdjust="spacingAndGlyphs">8</tspan> <tspan x="-50.27">&lt;</tspan> <tspan x="-39.04">p</tspan> <tspan x="-28.18">&lt;</tspan> <tspan x="-17.14" textLength="7.13" lengthAdjust="spacingAndGlyphs">0</tspan><tspan x="-10.01" textLength="2.88" lengthAdjust="spacingAndGlyphs">.</tspan><tspan x="-7.13" textLength="7.13" lengthAdjust="spacingAndGlyphs">9</tspan></text>
<text transform="translate(624.10 426.80) rotate(-45)" font-size="13.55" y="4.4" ><tspan x="-77.67" textLength="7.13" lengthAdjust="spacingAndGlyphs">0</tspan><tspan x="-70.54" textLength="2.88" lengthAdjust="spacingAndGlyphs">.</tspan><tspan x="-67.67" textLength="7.13" lengthAdjust="spacingAndGlyphs">9</tspan> <tspan x="-57.40">&lt;</tspan> <tspan x="-46.17">p</tspan> <tspan x="-35.31">&lt;</tspan> <tspan x="-24.27" textLength="7.13" lengthAdjust="spacingAndGlyphs">0</tspan><tspan x="-17.14" textLength="2.88" lengthAdjust="spacingAndGlyphs">.</tspan><tspan x="-14.26" textLength="7.13" lengthAdjust="spacingAndGlyphs">9</tspan><tspan x="-7.13" textLength="7.13" lengthAdjust="spacingAndGlyphs">5</tspan></text>
<text transform="translate(1377.75 430.80) rotate(-45)" font-size="13.55" y="4.4" ><tspan x="-67.67" textLength="7.13" lengthAdjust="spacingAndGlyphs">0</tspan> <tspan x="-57.40">&lt;</tspan> <tspan x="-46.17">p</tspan> <tspan x="-35.31">&lt;</tspan> <tspan x="-24.27" textLength="7.13" lengthAdjust="spacingAndGlyphs">0</tspan><tspan x="-17.14" textLength="2.88" lengthAdjust="spacingAndGlyphs">.</tspan><tspan x="-14.26" textLength="7.13" lengthAdjust="spacingAndGlyphs">0</tspan><tspan x="-7.13" textLength="7.13" lengthAdjust="spacingAndGlyphs">1</tspan></text>
<text transform="translate(1429.25 425.65) rotate(-45)" font-size="13.55" y="4.4" ><tspan x="-84.80" textLength="7.13" lengthAdjust="spacingAndGlyphs">0</tspan><tspan x="-77.67" textLength="2.88" lengthAdjust="spacingAndGlyphs">.</tspan><tspan x="-74.80" textLength="7.13" lengthAdjust="spacingAndGlyphs">0</tspan><tspan x="-67.67" textLength="7.13" lengthAdjust="spacingAndGlyphs">1</tspan> <tspan x="-57.40">&lt;</tspan> <tspan x="-46.17">p</tspan> <tspan x="-35.31">&lt;</tspan> <tspan x="-24.27" textLength="7.13" lengthAdjust="spacingAndGlyphs">0</tspan><tspan x="-17.14" textLength="2.88" lengthAdjust="spacingAndGlyphs">.</tspan><tspan x="-14.26" textLength="7.13" lengthAdjust="spacingAndGlyphs">0</tspan><tspan x="-7.13" textLength="7.13" lengthAdjust="spacingAndGlyphs">5</tspan></text>
<text transform="translate(1475.25 428.05) rotate(-45)" font-size="13.55" y="4.4" ><tspan x="-77.67" textLength="7.13" lengthAdjust="spacingAndGlyphs">0</tspan><tspan x="-70.54" textLength="2.88" lengthAdjust="spacingAndGlyphs">.</tspan><tspan x="-67.67" textLength="7.13" lengthAdjust="spacingAndGlyphs">0</tspan><tspan x="-60.53" textLength="7.13" lengthAdjust="spacingAndGlyphs">5</tspan> <tspan x="-50.27">&lt;</tspan> <tspan x="-39.04">p</tspan> <tspan x="-28.18">&lt;</tspan> <tspan x="-17.14" textLength="7.13" lengthAdjust="spacingAndGlyphs">0</tspan><tspan x="-10.01" textLength="2.88" lengthAdjust="spacingAndGlyphs">.</tspan><tspan x="-7.13" textLength="7.13" lengthAdjust="spacingAndGlyphs">1</tspan></text>
<text transform="translate(1525.45 429.70) rotate(-45)" font-size="13.55" y="4.4" ><tspan x="-70.54" textLength="7.13" lengthAdjust="spacingAndGlyphs">0</tspan><tspan x="-63.41" textLength="2.88" lengthAdjust="spacingAndGlyphs">.</tspan><tspan x="-60.53" textLength="7.13" lengthAdjust="spacingAndGlyphs">1</tspan> <tspan x="-50.27">&lt;</tspan> <tspan x="-39.04">p</tspan> <tspan x="-28.18">&lt;</tspan> <tspan x="-17.14" textLength="7.13" lengthAdjust="spacingAndGlyphs">0</tspan><tspan x="-10.01" textLength="2.88" lengthAdjust="spacingAndGlyphs">.</tspan><tspan x="-7.13" textLength="7.13" lengthAdjust="spacingAndGlyphs">2</tspan></text>
<text transform="translate(1574.05 429.20) rotate(-45)" font-size="13.55" y="4.4" ><tspan x="-70.54" textLength="7.13" lengthAdjust="spacingAndGlyphs">0</tspan><tspan x="-63.41" textLength="2.88" lengthAdjust="spacingAndGlyphs">.</tspan><tspan x="-60.53" textLength="7.13" lengthAdjust="spacingAndGlyphs">2</tspan> <tspan x="-50.27">&lt;</tspan> <tspan x="-39.04">p</tspan> <tspan x="-28.18">&lt;</tspan> <tspan x="-17.14" textLength="7.13" lengthAdjust="spacingAndGlyphs">0</tspan><tspan x="-10.01" textLength="2.88" lengthAdjust="spacingAndGlyphs">.</tspan><tspan x="-7.13" textLength="7.13" lengthAdjust="spacingAndGlyphs">3</tspan></text>
<text transform="translate(1627.80 429.20) rotate(-45)" font-size="13.55" y="4.4" ><tspan x="-70.54" textLength="7.13" lengthAdjust="spacingAndGlyphs">0</tspan><tspan x="-63.41" textLength="2.88" lengthAdjust="spacingAndGlyphs">.</tspan><tspan x="-60.53" textLength="7.13" lengthAdjust="spacingAndGlyphs">3</tspan> <tspan x="-50.27">&lt;</tspan> <tspan x="-39.04">p</tspan> <tspan x="-28.18">&lt;</tspan> <tspan x="-17.14" textLength="7.13" lengthAdjust="spacingAndGlyphs">0</tspan><tspan x="-10.01" textLength="2.88" lengthAdjust="spacingAndGlyphs">.</tspan><tspan x="-7.13" textLength="7.13" lengthAdjust="spacingAndGlyphs">4</tspan></text>
<text transform="translate(1680.45 429.20) rotate(-45)" font-size="13.55" y="4.4" ><tspan x="-70.54" textLength="7.13" lengthAdjust="spacingAndGlyphs">0</tspan><tspan x="-63.41" textLength="2.88" lengthAdjust="spacingAndGlyphs">.</tspan><tspan x="-60.53" textLength="7.13" lengthAdjust="spacingAndGlyphs">4</tspan> <tspan x="-50.27">&lt;</tspan> <tspan x="-39.04">p</tspan> <tspan x="-28.18">&lt;</tspan> <tspan x="-17.14" textLength="7.13" lengthAdjust="spacingAndGlyphs">0</tspan><tspan x="-10.01" textLength="2.88" lengthAdjust="spacingAndGlyphs">.</tspan><tspan x="-7.13" textLength="7.13" lengthAdjust="spacingAndGlyphs">5</tspan></text>
<text transform="translate(1729.25 429.20) rotate(-45)" font-size="13.55" y="4.4" ><tspan x="-70.54" textLength="7.13" lengthAdjust="spacingAndGlyphs">0</tspan><tspan x="-63.41" textLength="2.88" lengthAdjust="spacingAndGlyphs">.</tspan><tspan x="-60.53" textLength="7.13" lengthAdjust="spacingAndGlyphs">5</tspan> <tspan x="-50.27">&lt;</tspan> <tspan x="-39.04">p</tspan> <tspan x="-28.18">&lt;</tspan> <tspan x="-17.14" textLength="7.13" lengthAdjust="spacingAndGlyphs">0</tspan><tspan x="-10.01" textLength="2.88" lengthAdjust="spacingAndGlyphs">.</tspan><tspan x="-7.13" textLength="7.13" lengthAdjust="spacingAndGlyphs">6</tspan></text>
<text transform="translate(1778.65 429.20) rotate(-45)" font-size="13.55" y="4.4" ><tspan x="-70.54" textLength="7.13" lengthAdjust="spacingAndGlyphs">0</tspan><tspan x="-63.41" textLength="2.88" lengthAdjust="spacingAndGlyphs">.</tspan><tspan x="-60.53" textLength="7.13" lengthAdjust="spacingAndGlyphs">6</tspan> <tspan x="-50.27">&lt;</tspan> <tspan x="-39.04">p</tspan> <tspan x="-28.18">&lt;</tspan> <tspan x="-17.14" textLength="7.13" lengthAdjust="spacingAndGlyphs">0</tspan><tspan x="-10.01" textLength="2.88" lengthAdjust="spacingAndGlyphs">.</tspan><tspan x="-7.13" textLength="7.13" lengthAdjust="spacingAndGlyphs">7</tspan></text>
<text transform="translate(1830.85 429.20) rotate(-45)" font-size="13.55" y="4.4" ><tspan x="-70.54" textLength="7.13" lengthAdjust="spacingAndGlyphs">0</tspan><tspan x="-63.41" textLength="2.88" lengthAdjust="spacingAndGlyphs">.</tspan><tspan x="-60.53" textLength="7.13" lengthAdjust="spacingAndGlyphs">7</tspan> <tspan x="-50.27">&lt;</tspan> <tspan x="-39.04">p</tspan> <tspan x="-28.18">&lt;</tspan> <tspan x="-17.14" textLength="7.13" lengthAdjust="spacingAndGlyphs">0</tspan><tspan x="-10.01" textLength="2.88" lengthAdjust="spacingAndGlyphs">.</tspan><tspan x="-7.13" textLength="7.13" lengthAdjust="spacingAndGlyphs">8</tspan></text>
<text transform="translate(1878.35 429.20) rotate(-45)" font-size="13.55" y="4.4" ><tspan x="-70.54" textLength="7.13" lengthAdjust="spacingAndGlyphs">0</tspan><tspan x="-63.41" textLength="2.88" lengthAdjust="spacingAndGlyphs">.</tspan><tspan x="-60.53" textLength="7.13" lengthAdjust="spacingAndGlyphs">8</tspan> <tspan x="-50.27">&lt;</tspan> <tspan x="-39.04">p</tspan> <tspan x="-28.18">&lt;</tspan> <tspan x="-17.14" textLength="7.13" lengthAdjust="spacingAndGlyphs">0</tspan><tspan x="-10.01" textLength="2.88" lengthAdjust="spacingAndGlyphs">.</tspan><tspan x="-7.13" textLength="7.13" lengthAdjust="spacingAndGlyphs">9</tspan></text>
<text transform="translate(1926.15 426.80) rotate(-45)" font-size="13.55" y="4.4" ><tspan x="-77.67" textLength="7.13" lengthAdjust="spacingAndGlyphs">0</tspan><tspan x="-70.54" textLength="2.88" lengthAdjust="spacingAndGlyphs">.</tspan><tspan x="-67.67" textLength="7.13" lengthAdjust="spacingAndGlyphs">9</tspan> <tspan x="-57.40">&lt;</tspan> <tspan x="-46.17">p</tspan> <tspan x="-35.31">&lt;</tspan> <tspan x="-24.27" textLength="7.13" lengthAdjust="spacingAndGlyphs">0</tspan><tspan x="-17.14" textLength="2.88" lengthAdjust="spacingAndGlyphs">.</tspan><tspan x="-14.26" textLength="7.13" lengthAdjust="spacingAndGlyphs">9</tspan><tspan x="-7.13" textLength="7.13" lengthAdjust="spacingAndGlyphs">5</tspan></text>
<text x="732.1" y="441.9" font-size="12.75" textLength="23.74" lengthAdjust="spacingAndGlyphs" text-anchor="middle" stroke="#231f20" stroke-width="0.35">10th</text>
<text x="789.3" y="441.9" font-size="12.75" textLength="16.96" lengthAdjust="spacingAndGlyphs" text-anchor="middle" stroke="#231f20" stroke-width="0.35">9th</text>
<text x="846.5" y="441.9" font-size="12.75" textLength="16.96" lengthAdjust="spacingAndGlyphs" text-anchor="middle" stroke="#231f20" stroke-width="0.35">8th</text>
<text x="903.7" y="441.9" font-size="12.75" textLength="16.96" lengthAdjust="spacingAndGlyphs" text-anchor="middle" stroke="#231f20" stroke-width="0.35">7th</text>
<text x="960.9" y="441.9" font-size="12.75" textLength="16.96" lengthAdjust="spacingAndGlyphs" text-anchor="middle" stroke="#231f20" stroke-width="0.35">6th</text>
<text x="1018.1" y="441.9" font-size="12.75" textLength="16.96" lengthAdjust="spacingAndGlyphs" text-anchor="middle" stroke="#231f20" stroke-width="0.35">5th</text>
<text x="1075.3" y="441.9" font-size="12.75" textLength="16.96" lengthAdjust="spacingAndGlyphs" text-anchor="middle" stroke="#231f20" stroke-width="0.35">4th</text>
<text x="1132.5" y="441.9" font-size="12.75" textLength="17.63" lengthAdjust="spacingAndGlyphs" text-anchor="middle" stroke="#231f20" stroke-width="0.35">3rd</text>
<text x="1189.7" y="441.9" font-size="12.75" textLength="20.36" lengthAdjust="spacingAndGlyphs" text-anchor="middle" stroke="#231f20" stroke-width="0.35">2nd</text>
<text x="1246.9" y="441.9" font-size="12.75" textLength="16.27" lengthAdjust="spacingAndGlyphs" text-anchor="middle" stroke="#231f20" stroke-width="0.35">1st</text>
<circle cx="484.5" cy="80.64" r="3.5" fill="#52488e"/>
<text transform="translate(497.00 85.70)" font-size="14.33" y="0" stroke="#231f20" stroke-width="0.2"><tspan x="0.00" textLength="7.38" lengthAdjust="spacingAndGlyphs">T</tspan><tspan x="7.38" textLength="6.99" lengthAdjust="spacingAndGlyphs">y</tspan><tspan x="14.61">p</tspan><tspan x="22.82" textLength="7.44" lengthAdjust="spacingAndGlyphs">e</tspan> <tspan x="33.41" textLength="7.62" lengthAdjust="spacingAndGlyphs">2</tspan> <tspan x="44.38">d</tspan><tspan x="52.70">i</tspan><tspan x="56.03" textLength="7.16" lengthAdjust="spacingAndGlyphs">a</tspan><tspan x="63.43">b</tspan><tspan x="71.64" textLength="7.44" lengthAdjust="spacingAndGlyphs">e</tspan><tspan x="79.54">t</tspan><tspan x="83.99" textLength="7.44" lengthAdjust="spacingAndGlyphs">e</tspan><tspan x="91.43" textLength="5.88" lengthAdjust="spacingAndGlyphs">s</tspan></text>
<circle cx="484.5" cy="97.80" r="3.5" fill="#b93f40"/>
<text transform="translate(497.00 103.70)" font-size="14.33" y="0" stroke="#231f20" stroke-width="0.2"><tspan x="0.00" textLength="10.23" lengthAdjust="spacingAndGlyphs">O</tspan><tspan x="10.47">b</tspan><tspan x="18.68" textLength="7.44" lengthAdjust="spacingAndGlyphs">e</tspan><tspan x="26.12" textLength="5.88" lengthAdjust="spacingAndGlyphs">s</tspan><tspan x="32.15">i</tspan><tspan x="35.94">t</tspan><tspan x="40.39" textLength="6.99" lengthAdjust="spacingAndGlyphs">y</tspan></text>
<circle cx="484.5" cy="114.96" r="3.5" fill="#04646a"/>
<text transform="translate(497.00 120.70)" font-size="14.33" y="0" stroke="#231f20" stroke-width="0.2"><tspan x="0.00" textLength="8.05" lengthAdjust="spacingAndGlyphs">B</tspan><tspan x="8.05">M</tspan><tspan x="19.99" textLength="3.55" lengthAdjust="spacingAndGlyphs">I</tspan></text>
<circle cx="484.5" cy="132.12" r="3.5" fill="#75513b"/>
<text transform="translate(497.00 137.80)" font-size="14.33" y="0" stroke="#231f20" stroke-width="0.2"><tspan x="0.00" textLength="9.68" lengthAdjust="spacingAndGlyphs">H</tspan><tspan x="9.68" textLength="7.44" lengthAdjust="spacingAndGlyphs">e</tspan><tspan x="17.27">i</tspan><tspan x="20.76">g</tspan><tspan x="29.03">h</tspan><tspan x="37.61">t</tspan></text>
<circle cx="1120.0" cy="98.00" r="3.6" fill="#52488e"/>
<text x="1133.6" y="103.2" font-size="15.15" textLength="41.91" lengthAdjust="spacingAndGlyphs" stroke="#231f20" stroke-width="0.35">Height</text>
<circle cx="1120.0" cy="116.60" r="3.6" fill="#b93f40"/>
<text x="1133.6" y="122.2" font-size="15.15" textLength="25.78" lengthAdjust="spacingAndGlyphs" stroke="#231f20" stroke-width="0.35">BMI</text>
<circle cx="1814.8" cy="80.56" r="3.5" fill="#52488e"/>
<text transform="translate(1826.00 85.46)" font-size="13.51" y="0" stroke="#231f20" stroke-width="0.2"><tspan x="0.00" textLength="9.13" lengthAdjust="spacingAndGlyphs">H</tspan><tspan x="9.13" textLength="6.75" lengthAdjust="spacingAndGlyphs">a</tspan><tspan x="16.03">l</tspan><tspan x="19.35">f</tspan> <tspan x="26.24" textLength="6.90" lengthAdjust="spacingAndGlyphs">S</tspan><tspan x="33.14" textLength="9.21" lengthAdjust="spacingAndGlyphs">N</tspan><tspan x="42.35" textLength="7.45" lengthAdjust="spacingAndGlyphs">P</tspan><tspan x="49.80" textLength="5.54" lengthAdjust="spacingAndGlyphs">s</tspan></text>
<circle cx="1814.8" cy="97.76" r="3.5" fill="#b93f40"/>
<text transform="translate(1826.00 102.66)" font-size="13.51" y="0" stroke="#231f20" stroke-width="0.2"><tspan x="0.00" textLength="9.65" lengthAdjust="spacingAndGlyphs">Q</tspan><tspan x="9.75">u</tspan><tspan x="17.36" textLength="6.75" lengthAdjust="spacingAndGlyphs">a</tspan><tspan x="24.15">r</tspan><tspan x="29.13">t</tspan><tspan x="33.32" textLength="7.01" lengthAdjust="spacingAndGlyphs">e</tspan><tspan x="40.37">r</tspan> <tspan x="47.88" textLength="6.90" lengthAdjust="spacingAndGlyphs">S</tspan><tspan x="54.78" textLength="9.21" lengthAdjust="spacingAndGlyphs">N</tspan><tspan x="63.99" textLength="7.45" lengthAdjust="spacingAndGlyphs">P</tspan><tspan x="71.44" textLength="5.54" lengthAdjust="spacingAndGlyphs">s</tspan></text>
<circle cx="1814.8" cy="114.96" r="3.5" fill="#04646a"/>
<text transform="translate(1826.00 119.86)" font-size="13.51" y="0" stroke="#231f20" stroke-width="0.2"><tspan x="0.00" textLength="6.96" lengthAdjust="spacingAndGlyphs">T</tspan><tspan x="7.09">h</tspan><tspan x="14.87">i</tspan><tspan x="18.04">r</tspan><tspan x="22.77">d</tspan> <tspan x="33.45" textLength="6.90" lengthAdjust="spacingAndGlyphs">S</tspan><tspan x="40.35" textLength="9.21" lengthAdjust="spacingAndGlyphs">N</tspan><tspan x="49.56" textLength="7.45" lengthAdjust="spacingAndGlyphs">P</tspan><tspan x="57.01" textLength="5.54" lengthAdjust="spacingAndGlyphs">s</tspan></text>
<circle cx="1814.8" cy="132.16" r="3.5" fill="#75513b"/>
<text transform="translate(1826.00 137.06)" font-size="13.51" y="0" stroke="#231f20" stroke-width="0.2"><tspan x="0.00" textLength="7.74" lengthAdjust="spacingAndGlyphs">Z</tspan><tspan x="7.74" textLength="7.01" lengthAdjust="spacingAndGlyphs">e</tspan><tspan x="14.80">r</tspan><tspan x="19.42">o</tspan> <tspan x="29.99" textLength="6.90" lengthAdjust="spacingAndGlyphs">S</tspan><tspan x="36.89" textLength="9.21" lengthAdjust="spacingAndGlyphs">N</tspan><tspan x="46.10" textLength="7.45" lengthAdjust="spacingAndGlyphs">P</tspan><tspan x="53.55" textLength="5.54" lengthAdjust="spacingAndGlyphs">s</tspan></text>
</g>
</svg>
</body>
</html>
